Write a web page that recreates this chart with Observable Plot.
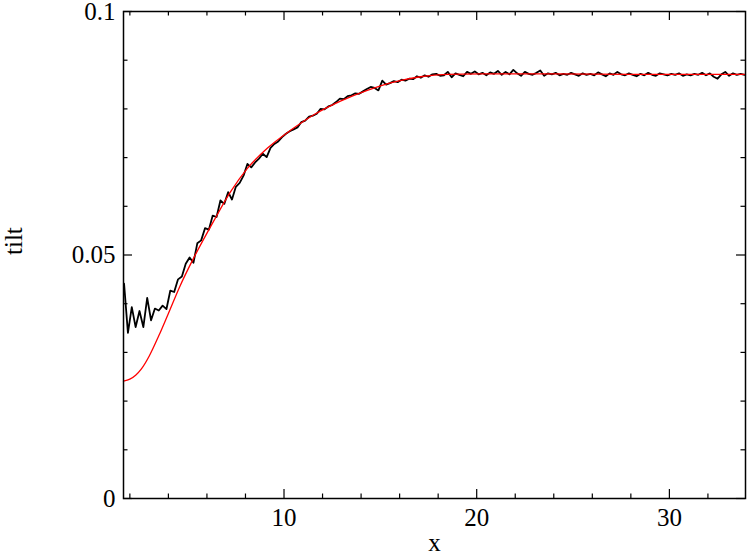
<!DOCTYPE html>
<html>
<head>
<meta charset="utf-8">
<script src="https://cdn.jsdelivr.net/npm/d3@7"></script>
<script src="https://cdn.jsdelivr.net/npm/@observablehq/plot@0.6"></script>
<style>
  html, body { margin: 0; padding: 0; background: white; }
  svg { display: block; overflow: visible; }
</style>
</head>
<body>
<div id="chart"></div>
<script>
// ---- data ----
const xDomain = [1.67, 33.95];
const yDomain = [0, 0.1];
const xMajorTicks = [10, 20, 30];
const xMinorTicks = [2, 4, 6, 8, 12, 14, 16, 18, 22, 24, 26, 28, 32];
const yMajorTicks = [0, 0.05, 0.1];
const yMinorTicks = [0.01, 0.02, 0.03, 0.04, 0.06, 0.07, 0.08, 0.09];
const yTickLabels = ["0", "0.05", "0.1"];

// measured series (black), sampled every 0.2 from x = 1.7
const measuredStart = 1.7;
const measuredStep = 0.2;
const measuredTilt = [
  0.0441, 0.0340, 0.0393, 0.0352, 0.0385, 0.0352, 0.0412, 0.0366, 0.0390, 0.0386,
  0.0396, 0.0389, 0.0427, 0.0424, 0.0450, 0.0456, 0.0482, 0.0495, 0.0484, 0.0524,
  0.0530, 0.0555, 0.0552, 0.0581, 0.0578, 0.0612, 0.0605, 0.0629, 0.0614, 0.0640,
  0.0648, 0.0663, 0.0687, 0.0680, 0.0690, 0.0698, 0.0708, 0.0701, 0.0720, 0.0728,
  0.0733, 0.0742, 0.0749, 0.0754, 0.0758, 0.0762, 0.0773, 0.0776, 0.0784, 0.0786,
  0.0790, 0.0800, 0.0799, 0.0805, 0.0808, 0.0814, 0.0821, 0.0820, 0.0826, 0.0828,
  0.0832, 0.0831, 0.0836, 0.0841, 0.0845, 0.0843, 0.0838, 0.0858, 0.0850, 0.0853,
  0.0857, 0.0855, 0.0860, 0.0858, 0.0862, 0.0861, 0.0867, 0.0864, 0.0869, 0.0866,
  0.0871, 0.0872, 0.0868, 0.0869, 0.0876, 0.0865, 0.0873, 0.0870, 0.0867, 0.0876,
  0.0872, 0.0877, 0.0871, 0.0874, 0.0869, 0.0875, 0.0872, 0.0878, 0.0870, 0.0876,
  0.0871, 0.0880, 0.0873, 0.0868, 0.0876, 0.0872, 0.0870, 0.0874, 0.0879, 0.0868,
  0.0873, 0.0871, 0.0874, 0.0869, 0.0872, 0.0870, 0.0874, 0.0871, 0.0868, 0.0873,
  0.0870, 0.0872, 0.0869, 0.0875, 0.0871, 0.0867, 0.0873, 0.0870, 0.0876, 0.0871,
  0.0869, 0.0873, 0.0870, 0.0867, 0.0872, 0.0869, 0.0874, 0.0870, 0.0868, 0.0873,
  0.0871, 0.0869, 0.0872, 0.0870, 0.0873, 0.0868, 0.0871, 0.0869, 0.0872, 0.0870,
  0.0874, 0.0869, 0.0873, 0.0866, 0.0862, 0.0871, 0.0876, 0.0868, 0.0873, 0.0870,
  0.0872, 0.0870
];

// fitted curve (red)
const fitX = [1.67, 2.0, 2.3, 2.6, 3.0, 3.5, 4.0, 4.6, 5.25, 6.37, 7.23, 8.10, 9.13,
  10.34, 11.55, 12.93, 14.32, 15.69, 17.08, 18.46, 20.2, 24, 28, 33.95];
const fitTilt = [0.0241, 0.0245, 0.0253, 0.0266, 0.0292, 0.0334, 0.0380, 0.0436, 0.0489,
  0.0571, 0.0630, 0.0678, 0.0719, 0.0756, 0.0788, 0.0816, 0.0838, 0.0855, 0.0866,
  0.0871, 0.0872, 0.0872, 0.0871, 0.0871];

// ---- tables for the library ----
const measured = measuredTilt.map((y, i) => ({x: measuredStart + i * measuredStep, y}));
const fit = fitX.map((x, i) => ({x, y: fitTilt[i]}));

const W = 747, H = 557;
const mL = 123, mR = 2, mT = 11, mB = 59;
const plotW = W - mL - mR, plotH = H - mT - mB;
const major = 9, minor = 4.5;
const font = "'Liberation Serif', 'Times New Roman', serif";
const fs = 25;

const chart = Plot.plot({
  width: W,
  height: H,
  marginLeft: mL,
  marginRight: mR,
  marginTop: mT,
  marginBottom: mB,
  style: {fontFamily: font, fontSize: fs + "px", background: "white", color: "black", overflow: "visible"},
  x: {domain: xDomain},
  y: {domain: yDomain},
  marks: [
    // data
    Plot.line(measured, {x: "x", y: "y", stroke: "black", strokeWidth: 1.8}),
    Plot.line(fit, {x: "x", y: "y", stroke: "#ff0000", strokeWidth: 1.3, curve: "monotone-x"}),
    // inward ticks, all four sides
    Plot.ruleX(xMajorTicks, {x: d => d, insetTop: plotH - major, stroke: "black", strokeWidth: 1.2}),
    Plot.ruleX(xMajorTicks, {x: d => d, insetBottom: plotH - major, stroke: "black", strokeWidth: 1.2}),
    Plot.ruleX(xMinorTicks, {x: d => d, insetTop: plotH - minor, stroke: "black", strokeWidth: 1.2}),
    Plot.ruleX(xMinorTicks, {x: d => d, insetBottom: plotH - minor, stroke: "black", strokeWidth: 1.2}),
    Plot.ruleY(yMajorTicks, {y: d => d, insetRight: plotW - major, stroke: "black", strokeWidth: 1.2}),
    Plot.ruleY(yMajorTicks, {y: d => d, insetLeft: plotW - major, stroke: "black", strokeWidth: 1.2}),
    Plot.ruleY(yMinorTicks, {y: d => d, insetRight: plotW - minor, stroke: "black", strokeWidth: 1.2}),
    Plot.ruleY(yMinorTicks, {y: d => d, insetLeft: plotW - minor, stroke: "black", strokeWidth: 1.2}),
    Plot.frame({stroke: "black", strokeWidth: 1.5}),
    // tick labels
    Plot.axisX(xMajorTicks, {tickSize: 0, tickPadding: 10, fontSize: fs, fontFamily: font, label: null}),
    Plot.axisY(yMajorTicks, {tickSize: 0, tickPadding: 8, fontSize: fs, fontFamily: font, label: null,
      tickFormat: d => yTickLabels[yMajorTicks.indexOf(d)]}),
    // axis titles
    Plot.text(["x"], {frameAnchor: "bottom", dy: 52, fontSize: fs, fontFamily: font, fill: "black"}),
    Plot.text(["tilt"], {frameAnchor: "left", dx: -110, rotate: -90, fontSize: fs, fontFamily: font, fill: "black"})
  ]
});
document.getElementById("chart").appendChild(chart);
</script>
</body>
</html>
